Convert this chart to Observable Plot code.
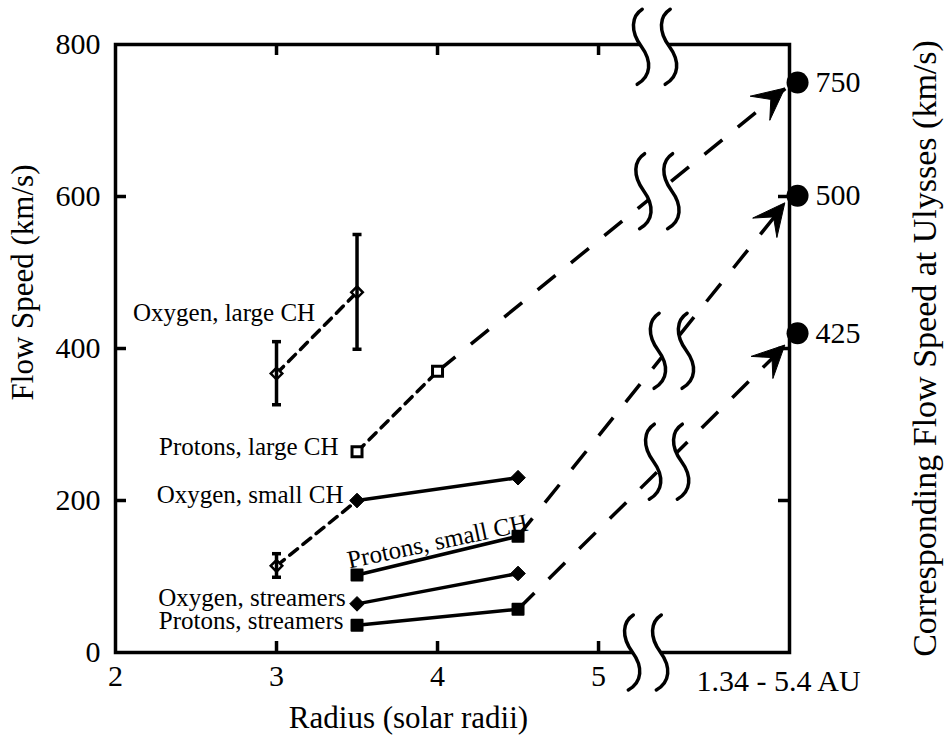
<!DOCTYPE html>
<html>
<head>
<meta charset="utf-8">
<script src="https://cdn.jsdelivr.net/npm/d3@7"></script>
<script src="https://cdn.jsdelivr.net/npm/@observablehq/plot@0.6"></script>
<style>
  html, body { margin: 0; padding: 0; background: #fff; }
</style>
</head>
<body>
<div id="chart"></div>
<script>
// ---------- data ----------
const xTicks = [2, 3, 4, 5];
const yTicks = [0, 200, 400, 600, 800];
const innerXTicks = [3, 4, 5];
const innerYTicks = [200, 400, 600];

// r = radius (solar radii), v = flow speed (km/s)
const oxyLargeCH = [{r: 3, v: 367, lo: 326, hi: 409}, {r: 3.5, v: 474, lo: 399, hi: 550}];
const protLargeCH = [{r: 3.5, v: 264}, {r: 4, v: 370}];
const oxySmallCH = [{r: 3, v: 114, lo: 99, hi: 130}, {r: 3.5, v: 200}, {r: 4.5, v: 230}];
const protSmallCH = [{r: 3.5, v: 102}, {r: 4.5, v: 153}];
const oxyStreamers = [{r: 3.5, v: 64}, {r: 4.5, v: 104}];
const protStreamers = [{r: 3.5, v: 36}, {r: 4.5, v: 57}];

// Ulysses (1.34 - 5.4 AU) speeds
const ulyssesLabels = ["750", "500", "425"];
const ulyssesLeftScale = [750, 601, 420];
const ulyssesR = 6.236;
const ulyssesFrom = [{r: 4, v: 370}, {r: 4.5, v: 153}, {r: 4.5, v: 57}];
const ulyssesTip = [{r: 6.16, v: 742}, {r: 6.16, v: 591}, {r: 6.16, v: 404}];

// axis / line breaks
const breaks = [
  {r: 5.355, v: 797}, {r: 5.30, v: 0},
  {r: 5.37, v: 607}, {r: 5.46, v: 397}, {r: 5.43, v: 251}
];

// series labels
const seriesLabels = [
  {text: "Oxygen, large CH", r: 3.24, v: 447},
  {text: "Protons, large CH", r: 3.385, v: 271},
  {text: "Oxygen, small CH", r: 3.416, v: 207},
  {text: "Oxygen, streamers", r: 3.43, v: 72},
  {text: "Protons, streamers", r: 3.416, v: 42}
];
const slantLabel = [{text: "Protons, small CH", r: 4.0, v: 146}];

const xTitle = "Radius (solar radii)";
const yTitle = "Flow Speed (km/s)";
const y2Title = "Corresponding Flow Speed at Ulysses (km/s)";
const auLabel = "1.34 - 5.4 AU";

// ---------- layout ----------
const W = 949, H = 736, ML = 115, MR = 160, MT = 44, MB = 84;
const innerW = W - ML - MR, innerH = H - MT - MB;
const tickLen = 11;
const SW = 3.5;

const errBars = [...oxyLargeCH, oxySmallCH[0]];
const errCaps = errBars.flatMap(d => [{r: d.r, v: d.lo}, {r: d.r, v: d.hi}]);
const capSymbol = {draw(ctx) { ctx.moveTo(-4.5, 0); ctx.lineTo(4.5, 0); }};
const ulysses = ulyssesLabels.map((label, i) => ({label, v: ulyssesLeftScale[i]}));
const ulyssesSegs = ulyssesFrom.map((s, i) => ({r1: s.r, v1: s.v, r2: ulyssesTip[i].r, v2: ulyssesTip[i].v}));

function decorations(index, scales) {
  const x = scales.x, y = scales.y;
  const g = d3.create("svg:g");
  // arrowheads
  ulyssesSegs.forEach(s => {
    const x0 = x(s.r1), y0 = y(s.v1), x1 = x(s.r2), y1 = y(s.v2);
    const len = Math.hypot(x1 - x0, y1 - y0);
    const ux = (x1 - x0) / len, uy = (y1 - y0) / len;
    const nx = -uy, ny = ux;
    const L = 32, Wd = 15.5, N = 18;
    const pts = [
      [x1, y1],
      [x1 - L * ux + Wd * nx, y1 - L * uy + Wd * ny],
      [x1 - N * ux, y1 - N * uy],
      [x1 - L * ux - Wd * nx, y1 - L * uy - Wd * ny]
    ];
    g.append("path")
      .attr("d", "M" + pts.map(p => p[0].toFixed(1) + "," + p[1].toFixed(1)).join("L") + "Z")
      .attr("fill", "black").attr("stroke", "black").attr("stroke-width", 1).attr("stroke-linejoin", "round");
  });
  // breaks: two S-shaped strokes with white between
  const sPath = (ox) => `M${ox + 1},-37 C${ox - 10},-30 ${ox - 11},-15 ${ox},0 C${ox + 11},15 ${ox + 10},30 ${ox - 4},38`;
  const sRev = (ox) => `L${ox - 4},38 C${ox + 10},30 ${ox + 11},15 ${ox},0 C${ox - 11},-15 ${ox - 10},-30 ${ox + 1},-37 Z`;
  for (const b of breaks) {
    const cx = x(b.r), cy = y(b.v);
    const bg = g.append("g").attr("transform", `translate(${cx.toFixed(1)},${cy.toFixed(1)})`);
    bg.append("path").attr("d", sPath(-14) + " " + sRev(14)).attr("fill", "white").attr("stroke", "none");
    bg.append("path").attr("d", sPath(-14)).attr("fill", "none").attr("stroke", "black")
      .attr("stroke-width", SW).attr("stroke-linecap", "round");
    bg.append("path").attr("d", sPath(14)).attr("fill", "none").attr("stroke", "black")
      .attr("stroke-width", SW).attr("stroke-linecap", "round");
  }
  return g.node();
}

const chart = Plot.plot({
  width: W, height: H,
  marginLeft: ML, marginRight: MR, marginTop: MT, marginBottom: MB,
  style: {fontFamily: "'Liberation Serif', 'Times New Roman', serif", fontSize: "30px", color: "black", background: "white", overflow: "visible"},
  x: {domain: [2, 6.186]},
  y: {domain: [0, 800]},
  marks: [
    Plot.frame({stroke: "black", strokeWidth: SW}),
    // inward ticks
    Plot.tickY(innerYTicks, {y: d => d, insetRight: innerW - tickLen, strokeWidth: SW}),
    Plot.tickY(innerYTicks, {y: d => d, insetLeft: innerW - tickLen, strokeWidth: SW}),
    Plot.tickX(innerXTicks, {x: d => d, insetBottom: innerH - tickLen, strokeWidth: SW}),
    Plot.tickX(innerXTicks, {x: d => d, insetTop: innerH - tickLen, strokeWidth: SW}),
    Plot.axisX({ticks: xTicks, tickFormat: d => String(d), tickSize: 0, tickPadding: 12, label: null, fontSize: 30}),
    Plot.axisY({ticks: yTicks, tickFormat: d => String(d), tickSize: 0, tickPadding: 15, label: null, fontSize: 30}),

    // short-dashed connections
    Plot.line(oxyLargeCH, {x: "r", y: "v", stroke: "black", strokeWidth: SW, strokeDasharray: "10,7"}),
    Plot.line(protLargeCH, {x: "r", y: "v", stroke: "black", strokeWidth: SW, strokeDasharray: "10,7"}),
    Plot.line(oxySmallCH.slice(0, 2), {x: "r", y: "v", stroke: "black", strokeWidth: SW, strokeDasharray: "10,7"}),
    // solid connections
    Plot.line(oxySmallCH.slice(1), {x: "r", y: "v", stroke: "black", strokeWidth: SW}),
    Plot.line(protSmallCH, {x: "r", y: "v", stroke: "black", strokeWidth: SW}),
    Plot.line(oxyStreamers, {x: "r", y: "v", stroke: "black", strokeWidth: SW}),
    Plot.line(protStreamers, {x: "r", y: "v", stroke: "black", strokeWidth: SW}),
    // long-dashed to Ulysses
    Plot.link(ulyssesSegs, {x1: "r1", y1: "v1", x2: "r2", y2: "v2", stroke: "black", strokeWidth: SW, strokeDasharray: "23,20"}),

    // markers
    Plot.dot([...oxyLargeCH, oxySmallCH[0]], {x: "r", y: "v", symbol: "diamond2", r: 5.2, fill: "white", stroke: "black", strokeWidth: 2.5}),
    Plot.ruleX(errBars, {x: "r", y1: "lo", y2: "hi", stroke: "black", strokeWidth: SW}),
    Plot.dot(errCaps, {x: "r", y: "v", symbol: capSymbol, stroke: "black", strokeWidth: SW}),
    Plot.dot(protLargeCH, {x: "r", y: "v", symbol: "square", r: 5.64, fill: "white", stroke: "black", strokeWidth: 3}),
    Plot.dot([...oxySmallCH.slice(1), ...oxyStreamers], {x: "r", y: "v", symbol: "diamond2", r: 6.6, fill: "black", stroke: "black", strokeWidth: 1}),
    Plot.dot([...protSmallCH, ...protStreamers], {x: "r", y: "v", symbol: "square", r: 6.2, fill: "black", stroke: "black", strokeWidth: 2, strokeLinejoin: "round"}),

    // Ulysses circles and labels
    Plot.dot(ulysses, {x: ulyssesR, y: "v", r: 11, fill: "black"}),
    Plot.text(ulysses, {x: ulyssesR, y: "v", text: "label", dx: 18, textAnchor: "start", fontSize: 30}),

    // arrowheads and breaks
    decorations,

    // series labels
    Plot.text(seriesLabels, {x: "r", y: "v", text: "text", textAnchor: "end", fontSize: 25}),
    Plot.text(slantLabel, {x: "r", y: "v", text: "text", rotate: -12, fontSize: 25}),

    // titles
    Plot.text([xTitle], {frameAnchor: "bottom-left", dx: 293, dy: 66, textAnchor: "middle", lineAnchor: "middle", fontSize: 31}),
    Plot.text([yTitle], {frameAnchor: "left", dx: -92, dy: -66, rotate: -90, textAnchor: "middle", lineAnchor: "middle", fontSize: 31}),
    Plot.text([y2Title], {frameAnchor: "right", dx: 136, rotate: -90, textAnchor: "middle", lineAnchor: "middle", fontSize: 34}),
    Plot.text([auLabel], {frameAnchor: "bottom-right", dx: -11, dy: 29, textAnchor: "middle", lineAnchor: "middle", fontSize: 30})
  ]
});
document.getElementById("chart").appendChild(chart);
</script>
</body>
</html>
